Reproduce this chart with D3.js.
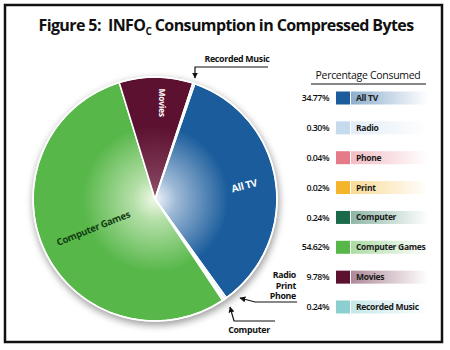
<!DOCTYPE html>
<html>
<head>
<meta charset="utf-8">
<script src="https://cdn.jsdelivr.net/npm/d3@7"></script>
<style>
  html, body { margin: 0; padding: 0; background: #fff; }
  svg { display: block; }
  text { font-family: "Open Sans", "Noto Sans", sans-serif; white-space: pre; }
</style>
</head>
<body>
<svg id="chart" width="450" height="350"></svg>
<script>
// Share of information consumed, by medium (compressed bytes)
const categories = ["All TV", "Radio", "Phone", "Print", "Computer", "Computer Games", "Movies", "Recorded Music"];
const percentages = [34.77, 0.30, 0.04, 0.02, 0.24, 54.62, 9.78, 0.24];
const percentLabels = ["34.77%", "0.30%", "0.04%", "0.02%", "0.24%", "54.62%", "9.78%", "0.24%"];
const colors = ["#1b5d9c", "#c6daee", "#e57a88", "#f4b52b", "#1b6b4b", "#57b749", "#5c1131", "#8ccfd0"];

const data = categories.map((c, i) => ({ name: c, value: percentages[i], label: percentLabels[i], color: colors[i] }));

const svg = d3.select("#chart");
const defs = svg.append("defs");

// outer frame
svg.append("rect")
  .attr("x", 5).attr("y", 5).attr("width", 437).attr("height", 337)
  .attr("fill", "#fff").attr("stroke", "#111").attr("stroke-width", 2.5);

// title with subscript
const title = svg.append("text")
  .attr("x", 226).attr("y", 31)
  .attr("text-anchor", "middle")
  .attr("font-size", 16).attr("font-weight", 700).attr("fill", "#111")
  .style("letter-spacing", "-0.6px");
title.append("tspan").text("Figure 5:  INFO");
title.append("tspan").attr("font-size", 10).attr("dy", 4).text("C");
title.append("tspan").attr("dy", -4).text(" Consumption in Compressed Bytes");

// pie
const cx = 155, cy = 199, R = 122;
const startDeg = 19;
const pie = d3.pie().sort(null).value(d => d.value)
  .startAngle(startDeg * Math.PI / 180)
  .endAngle(startDeg * Math.PI / 180 + 2 * Math.PI);
const arcs = pie(data);
const arc = d3.arc().innerRadius(0).outerRadius(R);

// soft shadow under the disc
const shadow = defs.append("filter").attr("id", "pieShadow")
  .attr("x", "-20%").attr("y", "-20%").attr("width", "140%").attr("height", "140%");
shadow.append("feGaussianBlur").attr("stdDeviation", 3.5);

const g = svg.append("g").attr("transform", `translate(${cx},${cy})`);
g.append("circle").attr("cx", 1).attr("cy", 3).attr("r", R + 1.5)
  .attr("fill", "#8a8a8a").attr("opacity", 0.8).attr("filter", "url(#pieShadow)");

// radial highlight toward the middle of each slice
const centerTint = {
  "All TV": "#f2f5fb", "Computer Games": "#f2f9e8", "Movies": "#94566e"
};
data.forEach((d, i) => {
  const grad = defs.append("radialGradient").attr("id", "rg" + i)
    .attr("gradientUnits", "userSpaceOnUse")
    .attr("cx", 0).attr("cy", 0).attr("r", R);
  const inner = centerTint[d.name] || d.color;
  grad.append("stop").attr("offset", "0%").attr("stop-color", inner);
  grad.append("stop").attr("offset", "18%").attr("stop-color", d3.interpolateRgb(inner, d.color)(0.4));
  grad.append("stop").attr("offset", "60%").attr("stop-color", d.color);
  grad.append("stop").attr("offset", "100%").attr("stop-color", d.color);
});

g.selectAll("path.slice").data(arcs).join("path")
  .attr("class", "slice")
  .attr("d", arc)
  .attr("fill", (d, i) => `url(#rg${i})`)
  .attr("stroke", "#fff").attr("stroke-width", 1.6).attr("stroke-linejoin", "round");

g.append("circle").attr("r", R).attr("fill", "none").attr("stroke", "#fff").attr("stroke-width", 1.6);

// labels inside the big slices
const inner = [
  { name: "All TV", r: 0.74, rot: -15, fill: "#fff", size: 10, text: "All TV" },
  { name: "Computer Games", r: 0.56, rot: -22, fill: "#123d12", size: 9.5, text: "Computer Games" },
  { name: "Movies", r: 0.79, rot: 90, fill: "#fff", size: 8.5, text: "Movies", dx: 6 }
];
inner.forEach(l => {
  const a = arcs.find(d => d.data.name === l.name);
  const mid = (a.startAngle + a.endAngle) / 2;
  const x = Math.sin(mid) * R * l.r + (l.dx || 0);
  const y = -Math.cos(mid) * R * l.r;
  g.append("text")
    .attr("transform", `translate(${x},${y}) rotate(${l.rot})`)
    .attr("text-anchor", "middle").attr("dy", "0.35em")
    .attr("font-size", l.size).attr("font-weight", 700).attr("fill", l.fill)
    .style("letter-spacing", "-0.3px")
    .text(l.text);
});

// callouts for the thin slices
defs.append("marker").attr("id", "arrow")
  .attr("viewBox", "0 0 10 10").attr("refX", 9).attr("refY", 5)
  .attr("markerWidth", 5).attr("markerHeight", 5).attr("orient", "auto")
  .append("path").attr("d", "M0,0 L10,5 L0,10 Z").attr("fill", "#111");

const callouts = [
  { pts: [[268, 67], [195, 67], [195, 78]], lines: ["Recorded Music"], x: 237, y: 62, anchor: "middle" },
  { pts: [[297, 302], [255, 302], [240, 298]], lines: ["Radio", "Print", "Phone"], x: 296, y: 278, anchor: "end" },
  { pts: [[275, 321], [234, 321], [230, 307]], lines: ["Computer"], x: 249, y: 333, anchor: "middle" }
];
callouts.forEach(c => {
  svg.append("path")
    .attr("d", d3.line()(c.pts))
    .attr("fill", "none").attr("stroke", "#111").attr("stroke-width", 1.2)
    .attr("marker-end", "url(#arrow)");
  const t = svg.append("text").attr("x", c.x).attr("y", c.y)
    .attr("text-anchor", c.anchor).attr("font-size", 8.8).attr("font-weight", 700).attr("fill", "#111")
    .style("letter-spacing", "-0.3px");
  c.lines.forEach((ln, i) => t.append("tspan").attr("x", c.x).attr("dy", i ? 10.5 : 0).text(ln));
});

// legend
svg.append("text").attr("x", 368).attr("y", 79)
  .attr("text-anchor", "middle").attr("font-size", 10.5).attr("fill", "#111")
  .style("letter-spacing", "-0.3px")
  .text("Percentage Consumed");
svg.append("line").attr("x1", 311).attr("x2", 426).attr("y1", 84).attr("y2", 84)
  .attr("stroke", "#111").attr("stroke-width", 1.2);

const rowY = d3.scalePoint().domain(categories).range([98, 307]);
data.forEach((d, i) => {
  const lg = defs.append("linearGradient").attr("id", "lg" + i);
  lg.append("stop").attr("offset", "0%").attr("stop-color", d.color).attr("stop-opacity", 0.5);
  lg.append("stop").attr("offset", "100%").attr("stop-color", d.color).attr("stop-opacity", 0);
});
const rows = svg.selectAll("g.row").data(data).join("g")
  .attr("class", "row")
  .attr("transform", d => `translate(0,${rowY(d.name)})`);
rows.append("rect").attr("x", 351).attr("y", -6.5).attr("width", 77).attr("height", 13)
  .attr("fill", (d, i) => `url(#lg${i})`);
rows.append("rect").attr("x", 336).attr("y", -6.5).attr("width", 14).attr("height", 13)
  .attr("fill", d => d.color);
rows.append("text").attr("x", 329).attr("dy", "0.35em").attr("text-anchor", "end")
  .attr("font-size", 8.8).attr("font-weight", 600).attr("fill", "#111").style("letter-spacing", "-0.5px")
  .text(d => d.label);
rows.append("text").attr("x", 356).attr("dy", "0.35em")
  .attr("font-size", 8.5).attr("font-weight", 700).attr("fill", "#1a1a1a").style("letter-spacing", "-0.3px")
  .text(d => d.name);
</script>
</body>
</html>
